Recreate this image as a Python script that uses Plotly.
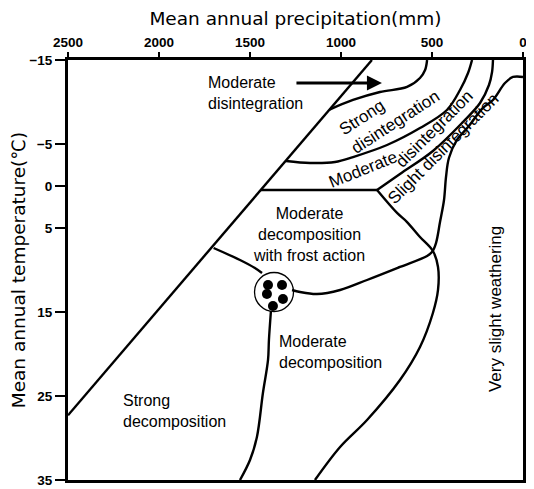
import plotly.graph_objects as go

# ---- axes ----
x_ticks = [2500, 2000, 1500, 1000, 500, 0]
y_ticks = [-15, -5, 0, 5, 15, 25, 35]

# ---- boundary curves (precipitation mm, temperature degC) ----
diag_p = [2500, 830]
diag_t = [27.3, -15]

strong_top_p = [1063, 934, 786, 637, 566, 538, 527]
strong_top_t = [-9.1, -10.24, -11.19, -11.79, -12.86, -13.81, -15]

moddis_top_p = [1302, 1170, 1033, 934, 747, 566, 418, 346, 302, 280]
moddis_top_t = [-2.98, -2.74, -2.86, -3.45, -4.88, -6.90, -9.05, -11.43, -13.45, -15]

flat_p = [1441, 802]
flat_t = [0.48, 0.48]

slight_left_p = [802, 676, 495, 330, 236, 187, 170, 165]
slight_left_t = [0.48, -1.43, -4.17, -7.62, -9.88, -12.02, -13.57, -15]

moddec_right_p = [802, 692, 637, 566, 495, 467, 467, 495, 566, 676, 857, 1005, 1143]
moddec_right_t = [0.48, 3.21, 4.29, 6.07, 7.74, 9.64, 12.38, 15.12, 19.17, 23.10, 27.86, 31.07, 35]

slight_right_p = [0, 55, 99, 165, 220, 302, 363, 407, 423, 434, 456, 478, 500, 527,
                  676, 857, 1005, 1132, 1225, 1269]
slight_right_t = [-12.98, -12.98, -12.26, -10.24, -9.29, -7.02, -5.48, -3.33, -1.07, 1.67,
                  4.29, 6.79, 7.86, 8.33, 9.64, 11.19, 12.38, 12.86, 12.62, 12.38]

frost_left_p = [1700, 1555, 1473, 1434]
frost_left_t = [7.38, 8.81, 9.76, 10.36]

moddec_left_p = [1385, 1396, 1401, 1429, 1462, 1500, 1555]
moddec_left_t = [14.88, 18.33, 20.71, 24.64, 29.88, 32.62, 35]

circle_p = [1368]
circle_t = [12.62]

dots_p = [1401, 1324, 1407, 1319, 1374]
dots_t = [11.79, 11.79, 12.86, 13.45, 14.29]

lines = [
    (diag_p, diag_t), (strong_top_p, strong_top_t), (moddis_top_p, moddis_top_t),
    (flat_p, flat_t), (slight_left_p, slight_left_t), (moddec_right_p, moddec_right_t),
    (slight_right_p, slight_right_t), (frost_left_p, frost_left_t),
    (moddec_left_p, moddec_left_t),
]

fig = go.Figure()
for p, t in lines:
    fig.add_trace(go.Scatter(x=p, y=t, mode="lines", line=dict(color="black", width=2.4),
                             line_shape="spline", hoverinfo="skip"))

fig.add_trace(go.Scatter(x=circle_p, y=circle_t, mode="markers",
                         marker=dict(symbol="circle-open", size=39, color="black",
                                     line=dict(width=1.3))))
fig.add_trace(go.Scatter(x=dots_p, y=dots_t, mode="markers",
                         marker=dict(symbol="circle", size=10, color="black")))

FONT = "Liberation Sans, Arial, sans-serif"

labels = [
    # text, p, t, angle, xanchor, align, size
    ("Moderate<br>disintegration", 1742, -11.07, 0, "left", "left", 16),
    ("Strong<br>disintegration", 731, -8.7, -33, "center", "left", 17),
    # the reference bends this label along its band: one word per piece
    ("Moderate", 879, -2.02, -22, "center", "center", 17),
    ("disintegration", 484, -6.79, -45, "center", "center", 17),
    ("Slight disintegration", 437, -4.46, -45, "center", "center", 17),
    ("Moderate<br>decomposition<br>with frost action", 1176, 5.83, 0, "center", "center", 16),
    ("Moderate<br>decomposition", 1352, 19.76, 0, "left", "left", 16),
    ("Strong<br>decomposition", 2209, 26.79, 0, "left", "left", 16),
    ("Very slight weathering", 148, 14.64, -90, "center", "center", 17),
]
for text, p, t, ang, xa, al, sz in labels:
    fig.add_annotation(x=p, y=t, text=text, showarrow=False, textangle=ang,
                       xanchor=xa, align=al,
                       font=dict(family=FONT, size=sz, color="black"))

# arrow
arrow_p = [1253, 775]
arrow_t = [-12.26, -12.26]
fig.add_annotation(x=arrow_p[1], y=arrow_t[1], ax=arrow_p[0], ay=arrow_t[0],
                   xref="x", yref="y", axref="x", ayref="y", text="",
                   showarrow=True, arrowhead=2, arrowsize=1, arrowwidth=3,
                   arrowcolor="black")

tick_font = dict(family=FONT, size=13.5, color="black", weight="bold")
title_font = dict(family="DejaVu Sans, sans-serif", size=18.5, color="black")

# page body has an 8px margin, so the figure is sized to fit the remaining window
fig.update_layout(
    width=526, height=481,
    margin=dict(l=60, r=11, t=52, b=9),
    paper_bgcolor="white", plot_bgcolor="white",
    showlegend=False,
    xaxis=dict(range=[2500, 0], side="top", tickmode="array", tickvals=x_ticks,
               ticks="outside", ticklen=5, tickwidth=2, tickcolor="black",
               showline=True, linewidth=3, linecolor="black", mirror=True,
               showgrid=False, zeroline=False, tickfont=tick_font, automargin=False,
               title=dict(text="Mean annual precipitation(mm)", font=title_font,
                          standoff=6)),
    yaxis=dict(range=[35, -15], tickmode="array", tickvals=y_ticks,
               ticks="outside", ticklen=10, tickwidth=2, tickcolor="black",
               showline=True, linewidth=3, linecolor="black", mirror=True,
               showgrid=False, zeroline=False, tickfont=tick_font, automargin=False,
               title=dict(text="Mean annual temperature(℃)", font=title_font,
                          standoff=0)),
)

fig.write_html("out.html")
